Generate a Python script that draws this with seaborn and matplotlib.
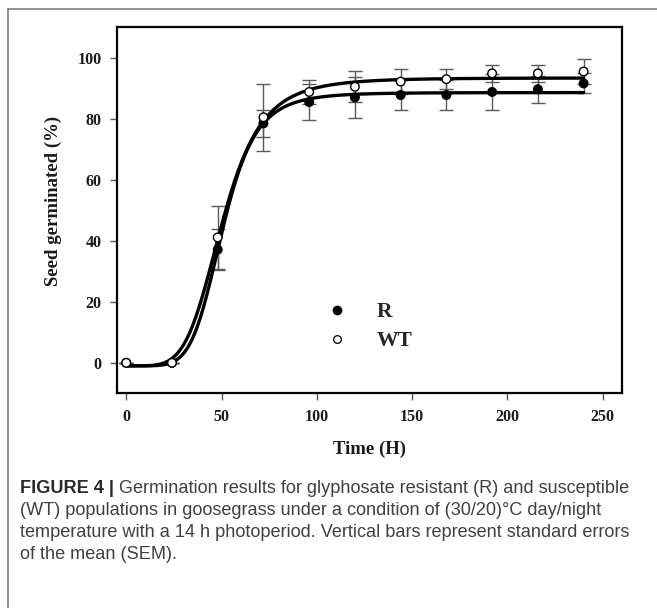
import numpy as np
import pandas as pd
import matplotlib
matplotlib.use("Agg")
import matplotlib.pyplot as plt
import seaborn as sns
from matplotlib.lines import Line2D

# germination data (hours after sowing)
hours = [0, 24, 48, 72, 96, 120, 144, 168, 192, 216, 240]
r_mean = [0, 0, 37.1, 78.5, 85.5, 87.0, 87.8, 87.8, 88.8, 89.7, 91.6]
r_sem = [0, 0, 6.8, 4.4, 5.8, 6.6, 5.0, 5.0, 5.9, 4.4, 3.3]
wt_mean = [0, 0, 41.1, 80.5, 88.8, 90.5, 92.2, 93.0, 94.9, 94.9, 95.5]
wt_sem = [0, 0, 10.4, 11.0, 4.0, 5.1, 4.0, 3.3, 2.7, 2.7, 4.1]

# fitted 4-parameter logistic curves: min, max, x50, slope
r_fit = [-1.0, 88.6, 50.6, 5.85]
wt_fit = [-1.0, 93.4, 50.5, 4.9]

caption_head = "FIGURE 4 |"
caption_lines = [
    " Germination results for glyphosate resistant (R) and susceptible",
    "(WT) populations in goosegrass under a condition of (30/20)\u00b0C day/night",
    "temperature with a 14 h photoperiod. Vertical bars represent standard errors",
    "of the mean (SEM).",
]

sns.set_style("ticks")
plt.rcParams['font.family'] = ['Liberation Serif', 'DejaVu Serif']

df = pd.DataFrame({
    'hours': hours * 2,
    'germ': r_mean + wt_mean,
    'sem': r_sem + wt_sem,
    'pop': ['R'] * len(hours) + ['WT'] * len(hours),
})


def logistic4(x, p):
    lo, hi, x50, b = p
    return lo + (hi - lo) * x ** b / (x ** b + x50 ** b)


xs = np.linspace(0, 240, 400)
curves = pd.DataFrame({
    'hours': np.concatenate([xs, xs]),
    'germ': np.concatenate([logistic4(xs, r_fit), logistic4(xs, wt_fit)]),
    'pop': ['R'] * len(xs) + ['WT'] * len(xs),
})

fig = plt.figure(figsize=(6.57, 6.08), dpi=100)
ax = fig.add_axes([0.1776, 0.3531, 0.7687, 0.602])

# error bars (SEM)
for pop, sub in df.groupby('pop'):
    ax.errorbar(sub['hours'], sub['germ'], yerr=sub['sem'], fmt='none',
                ecolor='#5a5a5a', elinewidth=1.0, capsize=5, capthick=1.0, zorder=2)

sns.lineplot(data=curves, x='hours', y='germ', units='pop', estimator=None,
             color='black', lw=2.4, ax=ax, zorder=3)

sns.scatterplot(data=df, x='hours', y='germ', hue='pop',
                palette={'R': 'black', 'WT': 'white'}, edgecolor='black',
                linewidth=1.0, s=38, legend=False, ax=ax, zorder=4)

ax.set_xlim(-5, 260)
ax.set_ylim(-10, 110)
ax.set_xticks([0, 50, 100, 150, 200, 250])
ax.set_yticks([0, 20, 40, 60, 80, 100])
for s in ax.spines.values():
    s.set_linewidth(1.6)
    s.set_color('black')
ax.tick_params(direction='out', length=5, width=1, color='#555555', pad=6)
for lab in ax.get_xticklabels() + ax.get_yticklabels():
    lab.set_fontweight('bold')
    lab.set_fontsize(11.5)
    lab.set_color('#1a1a1a')

ax.set_xlabel('Time (H)', fontsize=13.5, fontweight='bold', color='#1a1a1a')
ax.set_ylabel('Seed germinated (%)', fontsize=13.5, fontweight='bold', color='#1a1a1a')
ax.xaxis.set_label_coords(0.5, -0.13)
ax.yaxis.set_label_coords(-0.108, 0.525)

handles = [
    Line2D([], [], marker='o', ls='none', mfc='black', mec='black', ms=6),
    Line2D([], [], marker='o', ls='none', mfc='white', mec='black', mew=0.9, ms=5.5),
]
ax.legend(handles, ['R', 'WT'], loc='center left', bbox_to_anchor=(0.415, 0.182),
          frameon=False, handlelength=1.0, handletextpad=1.35, labelspacing=0.42,
          borderpad=0, borderaxespad=0,
          prop={'family': 'Liberation Serif', 'weight': 'bold', 'size': 15.5})

# outer frame of the figure panel
fig.add_artist(Line2D([8 / 657, 1.0], [1 - 9 / 608, 1 - 9 / 608], transform=fig.transFigure,
                      color='#808080', lw=1.2))
fig.add_artist(Line2D([8 / 657, 8 / 657], [1 - 9 / 608, 0.0], transform=fig.transFigure,
                      color='#808080', lw=1.2))

# caption
cap_font = ['Liberation Sans', 'DejaVu Sans']
cap_size = 13.1
x0 = 20 / 657
base = [493, 515, 537, 559]
head = fig.text(x0, 1 - base[0] / 608, caption_head, family=cap_font, fontsize=cap_size,
                fontweight='bold', color='#2a2a2a', va='baseline')
fig.canvas.draw()
bb = head.get_window_extent(renderer=fig.canvas.get_renderer())
fig.text(bb.x1 / fig.bbox.width, 1 - base[0] / 608, caption_lines[0], family=cap_font,
         fontsize=cap_size, color='#404040', va='baseline')
for line, yb in zip(caption_lines[1:], base[1:]):
    fig.text(x0, 1 - yb / 608, line, family=cap_font, fontsize=cap_size,
             color='#404040', va='baseline')

fig.savefig('out.png', dpi=100)
